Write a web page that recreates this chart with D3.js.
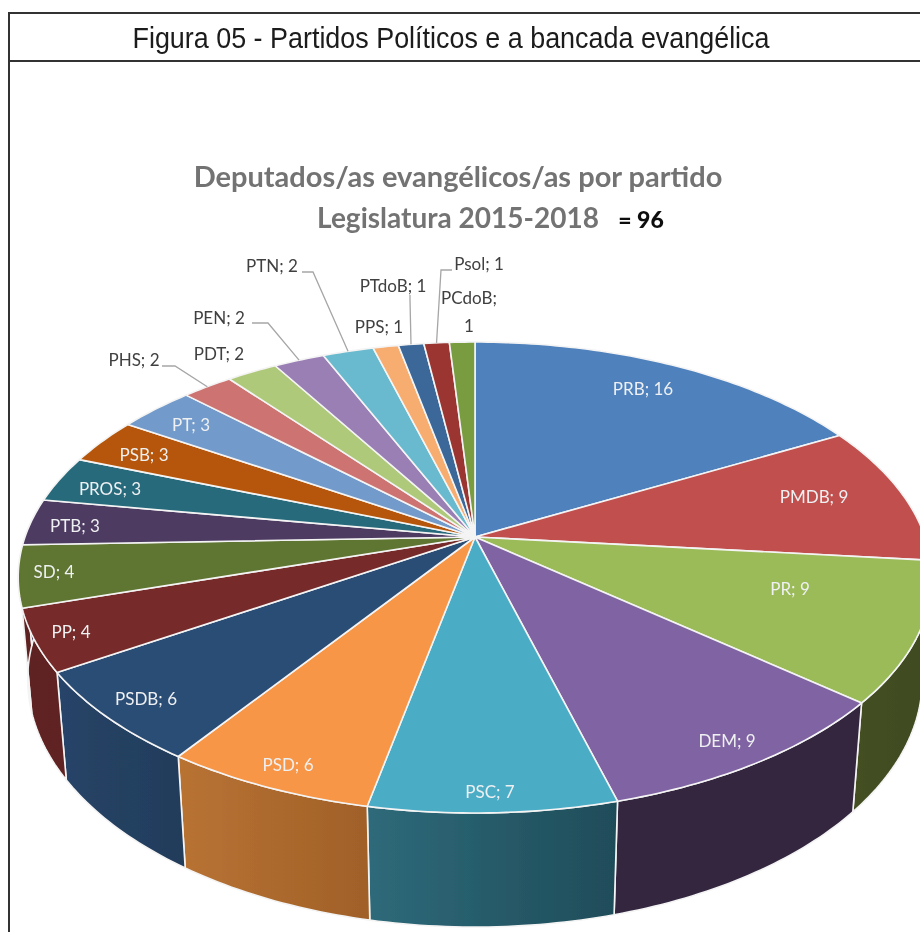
<!DOCTYPE html>
<html>
<head>
<meta charset="utf-8">
<title>Partidos Politicos e a bancada evangelica</title>
<style>
body { margin: 0; background: #fff; }
svg { display: block; }
.frame { fill: none; stroke: #333; stroke-width: 2px; }
.slice, .wall { stroke: #f4f4f4; stroke-width: 1.6px; stroke-linejoin: round; }
.leader { fill: none; stroke: #a6a6a6; stroke-width: 1.3px; }
.lbl { font: 17px Lato, sans-serif; text-anchor: middle; dominant-baseline: central; }
.out { fill: #404040; }
.in { fill: #eef0f2; }
</style>
</head>
<body>
<script src="https://cdnjs.cloudflare.com/ajax/libs/d3/7.8.5/d3.min.js"></script>
<script>

var parties = ["PRB","PMDB","PR","DEM","PSC","PSD","PSDB","PP","SD","PTB","PROS","PSB","PT","PHS","PDT","PEN","PTN","PPS","PTdoB","Psol","PCdoB"];
var seats = [16,9,9,9,7,6,6,4,4,3,3,3,3,2,2,2,2,1,1,1,1];

var topColors = ["#4f81bd","#c0504d","#9bbb59","#8064a2","#4bacc6","#f79646","#2c4d75","#772c2a","#5f7530","#4d3b62","#276a7c","#b65708","#729aca","#cd7371","#afc97a","#9a7fb5","#6bbacf","#f7ac6f","#3a6799","#9a3632","#7a9c40"];
// the sliver of SD wall reads as dark red in the reference
var wallLeft = ["#2c4d75","#6e2e2c","#444f24","#352841","#2e6a7a","#b87333","#264468","#5f2120","#5f2120","#352841","#1f4c59","#7a3a05","#4a6a90","#8a4a48","#6a7a40","#604a78","#3a7a8a","#a87040","#243f5f","#602120","#4a6028"];
var wallRight = ["#2c4d75","#6e2e2c","#3f4a21","#352841","#1f4c59","#a06028","#233c5a","#602120","#5f2120","#352841","#1f4c59","#7a3a05","#4a6a90","#8a4a48","#6a7a40","#604a78","#3a7a8a","#a87040","#243f5f","#602120","#4a6028"];

// label centres, same order as parties
var labelX = [643,814,790,727,490,288,146,71,54,75,110,144,191,134,219,219,272,379,393,479,469];
var labelY = [388,496,588,740,791,764,698,631,571,525,488,454,424,359,353,317,265,326,285,263,297];

// leaders: party -> elbow start and elbow
var leaders = {
  PHS:   [[162,366],[175,366]],
  PEN:   [[252,323],[268,323]],
  PTN:   [[302,272],[313,272]],
  PTdoB: [[410,295],[410,300]],
  Psol:  [[452,270],[441,270]]
};

var width = 920, height = 932;

// pie lies on a tilted disc, seen in perspective
var cx = 475, cy = 537, rx = 450, ry = 228.5, k = 0.172;
var depthW = 0.0206, depthY = 102.5;

function project(a, r, low) {
  var u = Math.sin(a) * r, v = Math.cos(a) * r;
  var w = 1 + k * v + (low ? depthW : 0);
  return [cx + rx * u / w, cy + (-ry * v + (low ? depthY : 0)) / w];
}

function arcPoints(a0, a1, low) {
  var n = Math.max(4, Math.ceil(Math.abs(a1 - a0) * 60));
  var s = d3.scaleLinear().domain([0, n]).range([a0, a1]);
  return d3.range(n + 1).map(function(i) { return project(s(i), 1, low); });
}

var line = d3.line();

var pie = d3.pie().sort(null).value(function(d) { return d.seats; });
var slices = pie(parties.map(function(p, i) { return {party: p, seats: seats[i], i: i}; }));

var svg = d3.select("body").append("svg")
    .attr("width", width)
    .attr("height", height);

var defs = svg.append("defs");
defs.append("filter").attr("id", "soft")
    .attr("x", "-2%").attr("y", "-2%").attr("width", "104%").attr("height", "104%")
  .append("feGaussianBlur").attr("stdDeviation", 0.55);

var grads = defs.selectAll("linearGradient").data(slices).enter().append("linearGradient")
    .attr("id", function(d) { return "wall" + d.data.i; });
grads.append("stop").attr("offset", 0).attr("stop-color", function(d) { return wallLeft[d.data.i]; });
grads.append("stop").attr("offset", 1).attr("stop-color", function(d) { return wallRight[d.data.i]; });

var root = svg.append("g").attr("filter", "url(#soft)");

// frame
root.append("path").attr("class", "frame")
    .attr("d", "M920,13H9V932M9,61H920");

root.append("text")
    .attr("x", 451).attr("y", 48)
    .attr("text-anchor", "middle")
    .attr("font-family", "'Liberation Sans', Arial, sans-serif")
    .attr("font-size", 29).attr("fill", "#1a1a1a")
    .attr("textLength", 637).attr("lengthAdjust", "spacingAndGlyphs")
    .text("Figura 05 - Partidos Políticos e a bancada evangélica");

var titleFont = "Lato, sans-serif";
root.append("text")
    .attr("x", 458).attr("y", 187).attr("text-anchor", "middle")
    .attr("font-family", titleFont).attr("font-weight", 700).attr("font-size", 29).attr("fill", "#737373")
    .text("Deputados/as evangélicos/as por partido");
root.append("text")
    .attr("x", 458).attr("y", 228).attr("text-anchor", "middle")
    .attr("font-family", titleFont).attr("font-weight", 700).attr("font-size", 28).attr("fill", "#737373")
    .text("Legislatura 2015-2018");
root.append("text")
    .attr("x", 641).attr("y", 228).attr("text-anchor", "middle")
    .attr("font-family", titleFont).attr("font-weight", 900).attr("font-size", 23).attr("fill", "#111")
    .text("= 96");

// side walls, only the ones facing us
var front = slices.filter(function(d) { return d.endAngle > Math.PI * 0.45 && d.startAngle < Math.PI * 1.55; });
root.selectAll(".wall").data(front).enter().append("path")
    .attr("class", "wall")
    .attr("fill", function(d) { return "url(#wall" + d.data.i + ")"; })
    .attr("d", function(d) {
      var upper = arcPoints(d.startAngle, d.endAngle, false);
      var lower = arcPoints(d.endAngle, d.startAngle, true);
      return line(upper.concat(lower)) + "Z";
    });

// top of the pie
root.selectAll(".slice").data(slices).enter().append("path")
    .attr("class", "slice")
    .attr("fill", function(d) { return topColors[d.data.i]; })
    .attr("d", function(d) {
      return line([[cx, cy]].concat(arcPoints(d.startAngle, d.endAngle, false))) + "Z";
    });

// leader lines run to the middle of the slice rim
root.selectAll(".leader").data(slices.filter(function(d) { return leaders[d.data.party]; })).enter().append("path")
    .attr("class", "leader")
    .attr("d", function(d) {
      var mid = (d.startAngle + d.endAngle) / 2;
      return line(leaders[d.data.party].concat([project(mid, 1, false)]));
    });

var outside = ["PHS","PDT","PEN","PTN","PPS","PTdoB","Psol","PCdoB"];
root.selectAll(".lbl").data(slices).enter().append("text")
    .attr("class", function(d) { return "lbl " + (outside.indexOf(d.data.party) >= 0 ? "out" : "in"); })
    .attr("x", function(d) { return labelX[d.data.i]; })
    .attr("y", function(d) { return labelY[d.data.i]; })
    .text(function(d) { return d.data.party === "PCdoB" ? "PCdoB;" : d.data.party + "; " + d.data.seats; });

// PCdoB wraps on two lines
root.append("text").attr("class", "lbl out")
    .attr("x", labelX[20]).attr("y", labelY[20] + 28)
    .text(seats[20]);

</script>
</body>
</html>
